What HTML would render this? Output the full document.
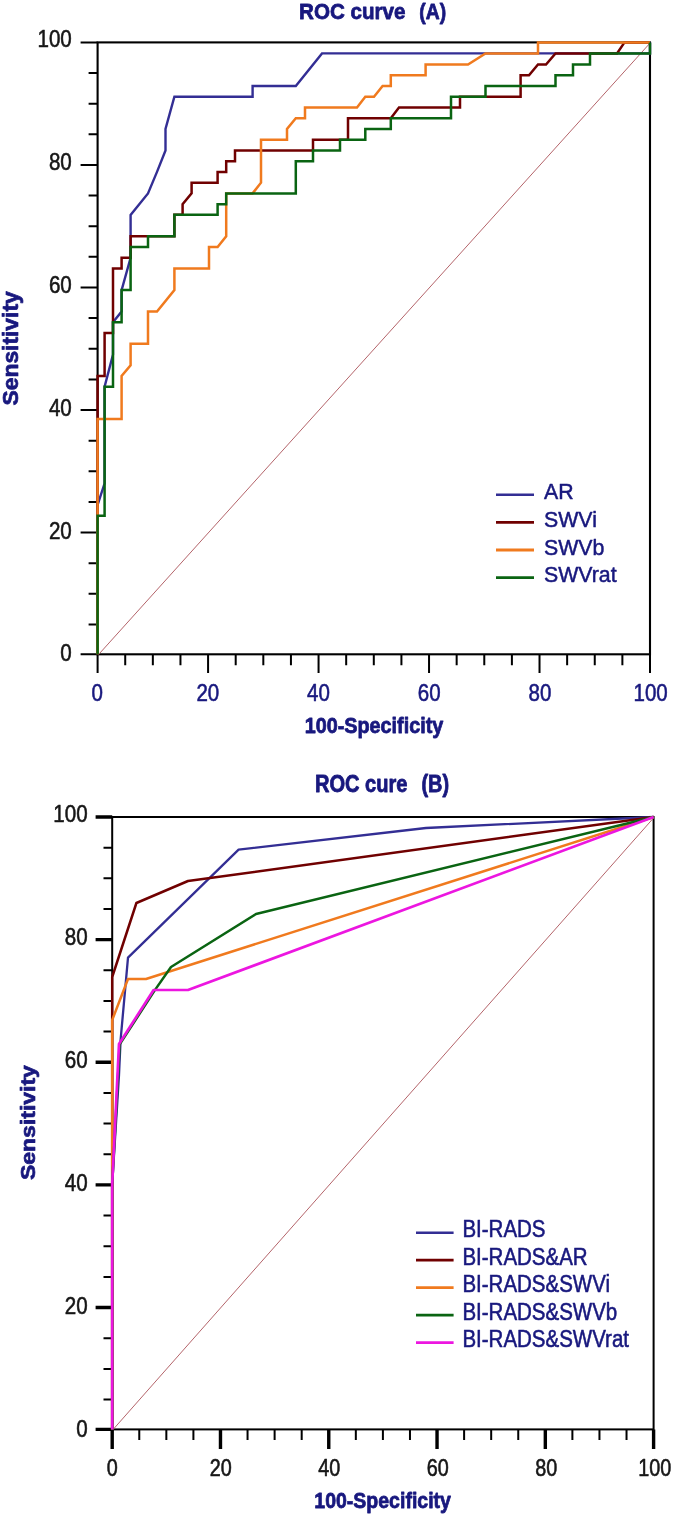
<!DOCTYPE html>
<html><head><meta charset="utf-8"><title>ROC curves</title>
<style>html,body{margin:0;padding:0;background:#fff}svg{display:block;will-change:transform}text{font-family:"Liberation Sans",sans-serif}</style></head><body>
<svg width="675" height="1518" viewBox="0 0 675 1518">
<rect width="675" height="1518" fill="#fff"/>
<g id="chartA">
<rect x="97.6" y="42.4" width="552.4" height="611.9" fill="none" stroke="#000" stroke-width="2.1"/>
<path d="M80.6,654.30H97.6M97.60,654.3V673M88.6,624.46H97.6M125.22,654.3V665.2M88.6,593.83H97.6M152.84,654.3V665.2M88.6,563.19H97.6M180.46,654.3V665.2M80.6,532.56H97.6M208.08,654.3V673M88.6,501.92H97.6M235.70,654.3V665.2M88.6,471.29H97.6M263.32,654.3V665.2M88.6,440.65H97.6M290.94,654.3V665.2M80.6,410.02H97.6M318.56,654.3V673M88.6,379.38H97.6M346.18,654.3V665.2M88.6,348.75H97.6M373.80,654.3V665.2M88.6,318.11H97.6M401.42,654.3V665.2M80.6,287.48H97.6M429.04,654.3V673M88.6,256.84H97.6M456.66,654.3V665.2M88.6,226.21H97.6M484.28,654.3V665.2M88.6,195.57H97.6M511.90,654.3V665.2M80.6,164.94H97.6M539.52,654.3V673M88.6,134.30H97.6M567.14,654.3V665.2M88.6,103.67H97.6M594.76,654.3V665.2M88.6,73.04H97.6M622.38,654.3V665.2M80.6,42.40H97.6M650.00,654.3V673" stroke="#000" stroke-width="2" fill="none"/>
<line x1="98.6" y1="654.5" x2="650.0" y2="43.1" stroke="#b4646a" stroke-width="1"/>
<path d="M97.6,654.3 L97.6,504.91 L104.6,483.42 L104.6,386.74 L113,354.52 L113,322.29 L121.6,311.55 L121.6,290.07 L130.6,257.84 L130.6,214.87 L148,193.39 L157,171.9 L165.5,150.42 L165.5,128.94 L174.4,96.71 L252.6,96.71 L252.6,85.97 L295.8,85.97 L322,53.4 L650,53.4 L650,42.4" fill="none" stroke="#332e94" stroke-width="2.4" stroke-linejoin="miter"/>
<path d="M97.6,654.3 L97.6,376.0 L104.6,376.0 L104.6,333.03 L113,333.03 L113,268.58 L121.6,268.58 L121.6,257.84 L130.6,257.84 L130.6,236.36 L174.4,236.36 L174.4,214.87 L182.6,214.87 L182.6,204.13 L191.6,193.39 L191.6,182.65 L217.6,182.65 L217.6,171.9 L226.2,171.9 L226.2,161.16 L235,161.16 L235,150.42 L313,150.42 L313,139.68 L348,139.68 L348,118.19 L390.8,118.19 L399,107.45 L460,107.45 L460,96.71 L520.6,96.71 L520.6,75.23 L529,75.23 L538,64.48 L546,64.48 L555.5,53.4 L617,53.4 L624.5,42.4 L650,42.4" fill="none" stroke="#700000" stroke-width="2.5" stroke-linejoin="miter"/>
<path d="M97.6,654.3 L97.6,418.97 L121.6,418.97 L121.6,376.0 L130.6,365.26 L130.6,343.78 L148,343.78 L148,311.55 L157,311.55 L174.4,290.07 L174.4,268.58 L209,268.58 L209,247.1 L217.6,247.1 L226.2,236.36 L226.2,193.39 L252.6,193.39 L261,182.65 L261,139.68 L287,139.68 L287,128.94 L295.8,118.19 L305,118.19 L305,107.45 L357,107.45 L365.3,96.71 L374,96.71 L382.6,85.97 L390.8,85.97 L390.8,75.23 L425.6,75.23 L425.6,64.48 L468,64.48 L485.5,53.4 L538,53.4 L538,42.4 L650,42.4" fill="none" stroke="#f07a1e" stroke-width="2.5" stroke-linejoin="miter"/>
<path d="M97.6,654.3 L97.6,515.65 L104.6,515.65 L104.6,386.74 L113,386.74 L113,322.29 L121.6,322.29 L121.6,290.07 L130.6,290.07 L130.6,247.1 L148,247.1 L148,236.36 L174.4,236.36 L174.4,214.87 L217.6,214.87 L217.6,204.13 L226.2,204.13 L226.2,193.39 L295.8,193.39 L295.8,161.16 L313,161.16 L313,150.42 L340,150.42 L340,139.68 L365.3,139.68 L365.3,128.94 L390.8,128.94 L390.8,118.19 L451,118.19 L451,96.71 L485.5,96.71 L485.5,85.97 L555.5,85.97 L555.5,75.23 L573,75.23 L573,64.48 L590,64.48 L590,53.4 L650,53.4 L650,42.4" fill="none" stroke="#0a6412" stroke-width="2.5" stroke-linejoin="miter"/>
<text transform="translate(71.8,661.4) scale(1,1.17)" font-size="20.6" text-anchor="end" fill="#161616" stroke="#161616" stroke-width="0.5" stroke-linejoin="round">0</text>
<text transform="translate(71.8,538.5) scale(1,1.17)" font-size="20.6" text-anchor="end" fill="#161616" stroke="#161616" stroke-width="0.5" stroke-linejoin="round">20</text>
<text transform="translate(71.8,415.7) scale(1,1.17)" font-size="20.6" text-anchor="end" fill="#161616" stroke="#161616" stroke-width="0.5" stroke-linejoin="round">40</text>
<text transform="translate(71.8,292.8) scale(1,1.17)" font-size="20.6" text-anchor="end" fill="#161616" stroke="#161616" stroke-width="0.5" stroke-linejoin="round">60</text>
<text transform="translate(71.8,170.0) scale(1,1.17)" font-size="20.6" text-anchor="end" fill="#161616" stroke="#161616" stroke-width="0.5" stroke-linejoin="round">80</text>
<text transform="translate(71.8,47.1) scale(1,1.17)" font-size="20.6" text-anchor="end" fill="#161616" stroke="#161616" stroke-width="0.5" stroke-linejoin="round">100</text>
<text transform="translate(97.1,700.7) scale(1,1.17)" font-size="20.5" text-anchor="middle" fill="#18187e" stroke="#18187e" stroke-width="0.5" stroke-linejoin="round">0</text>
<text transform="translate(207.8,700.7) scale(1,1.17)" font-size="20.5" text-anchor="middle" fill="#18187e" stroke="#18187e" stroke-width="0.5" stroke-linejoin="round">20</text>
<text transform="translate(318.5,700.7) scale(1,1.17)" font-size="20.5" text-anchor="middle" fill="#18187e" stroke="#18187e" stroke-width="0.5" stroke-linejoin="round">40</text>
<text transform="translate(429.2,700.7) scale(1,1.17)" font-size="20.5" text-anchor="middle" fill="#18187e" stroke="#18187e" stroke-width="0.5" stroke-linejoin="round">60</text>
<text transform="translate(539.9,700.7) scale(1,1.17)" font-size="20.5" text-anchor="middle" fill="#18187e" stroke="#18187e" stroke-width="0.5" stroke-linejoin="round">80</text>
<text transform="translate(650.6,700.7) scale(1,1.17)" font-size="20.5" text-anchor="middle" fill="#18187e" stroke="#18187e" stroke-width="0.5" stroke-linejoin="round">100</text>
<text transform="translate(299.0,19.1) scale(1,1.12)" font-size="20" font-weight="bold" textLength="106.5" lengthAdjust="spacingAndGlyphs" fill="#18187e" stroke="#18187e" stroke-width="0.7" stroke-linejoin="round">ROC curve</text>
<text transform="translate(419.3,19.1) scale(1,1.12)" font-size="20" font-weight="bold" textLength="26.8" lengthAdjust="spacingAndGlyphs" fill="#18187e" stroke="#18187e" stroke-width="0.7" stroke-linejoin="round">(A)</text>
<text transform="translate(374,733.0) scale(1,1.11)" font-size="20" text-anchor="middle" font-weight="bold" textLength="138.6" lengthAdjust="spacingAndGlyphs" fill="#18187e" stroke="#18187e" stroke-width="0.7" stroke-linejoin="round">100-Specificity</text>
<text transform="translate(18.1,348.4) rotate(-90) scale(1,1)" font-size="21.4" text-anchor="middle" font-weight="bold" textLength="114.2" lengthAdjust="spacingAndGlyphs" fill="#18187e" stroke="#18187e" stroke-width="0.7" stroke-linejoin="round">Sensitivity</text>
<line x1="496" y1="494.7" x2="534" y2="494.7" stroke="#332e94" stroke-width="2.5"/>
<text transform="translate(544,499.4) scale(1,1.065)" font-size="21.3" fill="#18187e" stroke="#18187e" stroke-width="0.5" stroke-linejoin="round">AR</text>
<line x1="496" y1="522.4" x2="534" y2="522.4" stroke="#700000" stroke-width="2.8"/>
<text transform="translate(544,527.1) scale(1,1.065)" font-size="21.3" fill="#18187e" stroke="#18187e" stroke-width="0.5" stroke-linejoin="round">SWVi</text>
<line x1="496" y1="550.0" x2="534" y2="550.0" stroke="#f07a1e" stroke-width="2.8"/>
<text transform="translate(544,554.7) scale(1,1.065)" font-size="21.3" fill="#18187e" stroke="#18187e" stroke-width="0.5" stroke-linejoin="round">SWVb</text>
<line x1="496" y1="577.6" x2="534" y2="577.6" stroke="#0a6412" stroke-width="2.8"/>
<text transform="translate(544,582.4) scale(1,1.065)" font-size="21.3" fill="#18187e" stroke="#18187e" stroke-width="0.5" stroke-linejoin="round">SWVrat</text>
</g>
<g id="chartB">
<rect x="112.2" y="817.0" width="541.4" height="612.4" fill="none" stroke="#000" stroke-width="2"/>
<path d="M95.6,1429.40H112.2M112.20,1429.4V1449M95.6,1307.56H112.2M220.48,1429.4V1449M95.6,1184.92H112.2M328.76,1429.4V1449M95.6,1062.28H112.2M437.04,1429.4V1449M95.6,939.64H112.2M545.32,1429.4V1449M95.6,817.00H112.2M653.60,1429.4V1449" stroke="#000" stroke-width="3.4" fill="none"/>
<path d="M103.5,1399.54H112.2M139.27,1429.4V1440M103.5,1368.88H112.2M166.34,1429.4V1440M103.5,1338.22H112.2M193.41,1429.4V1440M103.5,1276.90H112.2M247.55,1429.4V1440M103.5,1246.24H112.2M274.62,1429.4V1440M103.5,1215.58H112.2M301.69,1429.4V1440M103.5,1154.26H112.2M355.83,1429.4V1440M103.5,1123.60H112.2M382.90,1429.4V1440M103.5,1092.94H112.2M409.97,1429.4V1440M103.5,1031.62H112.2M464.11,1429.4V1440M103.5,1000.96H112.2M491.18,1429.4V1440M103.5,970.30H112.2M518.25,1429.4V1440M103.5,908.98H112.2M572.39,1429.4V1440M103.5,878.32H112.2M599.46,1429.4V1440M103.5,847.66H112.2M626.53,1429.4V1440" stroke="#000" stroke-width="2" fill="none"/>
<line x1="113.2" y1="1429.4" x2="653.6" y2="817.9" stroke="#b4646a" stroke-width="1"/>
<path d="M112.2,1429.4 L112.2,1184 L119,1075 L120.6,1040 L128,957.6 L238.6,849.6 L426,828 L653.6,817.0" fill="none" stroke="#332e94" stroke-width="2.3" stroke-linejoin="round"/>
<path d="M112.2,1429.4 L112.2,977 L136.4,903 L188,881 L653.6,817.0" fill="none" stroke="#700000" stroke-width="2.5" stroke-linejoin="round"/>
<path d="M112.2,1429.4 L112.2,1020 L128,979 L146,979 L653.6,817.0" fill="none" stroke="#f07a1e" stroke-width="2.5" stroke-linejoin="round"/>
<path d="M112.2,1429.4 L112.2,1184 L119.7,1044.4 L154.7,990.4 L171,967 L256,914 L653.6,817.0" fill="none" stroke="#0a6412" stroke-width="2.5" stroke-linejoin="round"/>
<path d="M112.2,1429.4 L112.2,1184 L119,1044 L153.6,990 L188,990 L653.6,817.0" fill="none" stroke="#ec16e0" stroke-width="2.7" stroke-linejoin="round"/>
<text transform="translate(87.6,1436.5) scale(1,1.17)" font-size="20.6" text-anchor="end" fill="#161616" stroke="#161616" stroke-width="0.5" stroke-linejoin="round">0</text>
<text transform="translate(87.6,1313.6) scale(1,1.17)" font-size="20.6" text-anchor="end" fill="#161616" stroke="#161616" stroke-width="0.5" stroke-linejoin="round">20</text>
<text transform="translate(87.6,1190.6) scale(1,1.17)" font-size="20.6" text-anchor="end" fill="#161616" stroke="#161616" stroke-width="0.5" stroke-linejoin="round">40</text>
<text transform="translate(87.6,1067.7) scale(1,1.17)" font-size="20.6" text-anchor="end" fill="#161616" stroke="#161616" stroke-width="0.5" stroke-linejoin="round">60</text>
<text transform="translate(87.6,944.7) scale(1,1.17)" font-size="20.6" text-anchor="end" fill="#161616" stroke="#161616" stroke-width="0.5" stroke-linejoin="round">80</text>
<text transform="translate(87.6,821.8) scale(1,1.17)" font-size="20.6" text-anchor="end" fill="#161616" stroke="#161616" stroke-width="0.5" stroke-linejoin="round">100</text>
<text transform="translate(112.2,1475.9) scale(1,1.21)" font-size="19.8" text-anchor="middle" fill="#161616" stroke="#161616" stroke-width="0.5" stroke-linejoin="round">0</text>
<text transform="translate(220.7,1475.9) scale(1,1.21)" font-size="19.8" text-anchor="middle" fill="#161616" stroke="#161616" stroke-width="0.5" stroke-linejoin="round">20</text>
<text transform="translate(329.2,1475.9) scale(1,1.21)" font-size="19.8" text-anchor="middle" fill="#161616" stroke="#161616" stroke-width="0.5" stroke-linejoin="round">40</text>
<text transform="translate(437.7,1475.9) scale(1,1.21)" font-size="19.8" text-anchor="middle" fill="#161616" stroke="#161616" stroke-width="0.5" stroke-linejoin="round">60</text>
<text transform="translate(546.2,1475.9) scale(1,1.21)" font-size="19.8" text-anchor="middle" fill="#161616" stroke="#161616" stroke-width="0.5" stroke-linejoin="round">80</text>
<text transform="translate(654.7,1475.9) scale(1,1.21)" font-size="19.8" text-anchor="middle" fill="#161616" stroke="#161616" stroke-width="0.5" stroke-linejoin="round">100</text>
<text transform="translate(314.9,791.8) scale(1,1.16)" font-size="20" font-weight="bold" textLength="92.5" lengthAdjust="spacingAndGlyphs" fill="#18187e" stroke="#18187e" stroke-width="0.7" stroke-linejoin="round">ROC cure</text>
<text transform="translate(421.4,791.8) scale(1,1.16)" font-size="20" font-weight="bold" textLength="27.6" lengthAdjust="spacingAndGlyphs" fill="#18187e" stroke="#18187e" stroke-width="0.7" stroke-linejoin="round">(B)</text>
<text transform="translate(382.6,1508.2) scale(1,1.11)" font-size="20" text-anchor="middle" font-weight="bold" textLength="136.6" lengthAdjust="spacingAndGlyphs" fill="#18187e" stroke="#18187e" stroke-width="0.7" stroke-linejoin="round">100-Specificity</text>
<text transform="translate(34.5,1122.6) rotate(-90) scale(1,1)" font-size="20.4" text-anchor="middle" font-weight="bold" textLength="115" lengthAdjust="spacingAndGlyphs" fill="#18187e" stroke="#18187e" stroke-width="0.7" stroke-linejoin="round">Sensitivity</text>
<line x1="416" y1="1232.8" x2="453.6" y2="1232.8" stroke="#332e94" stroke-width="2.5"/>
<text transform="translate(462.4,1237.3) scale(1,1.15)" font-size="20.5" fill="#18187e" stroke="#18187e" stroke-width="0.5" stroke-linejoin="round">BI-RADS</text>
<line x1="416" y1="1260.2" x2="453.6" y2="1260.2" stroke="#700000" stroke-width="2.8"/>
<text transform="translate(462.4,1264.8) scale(1,1.15)" font-size="20.5" fill="#18187e" stroke="#18187e" stroke-width="0.5" stroke-linejoin="round">BI-RADS&amp;AR</text>
<line x1="416" y1="1287.7" x2="453.6" y2="1287.7" stroke="#f07a1e" stroke-width="2.8"/>
<text transform="translate(462.4,1292.2) scale(1,1.15)" font-size="20.5" fill="#18187e" stroke="#18187e" stroke-width="0.5" stroke-linejoin="round">BI-RADS&amp;SWVi</text>
<line x1="416" y1="1315.1" x2="453.6" y2="1315.1" stroke="#0a6412" stroke-width="2.8"/>
<text transform="translate(462.4,1319.6) scale(1,1.15)" font-size="20.5" fill="#18187e" stroke="#18187e" stroke-width="0.5" stroke-linejoin="round">BI-RADS&amp;SWVb</text>
<line x1="416" y1="1342.6" x2="453.6" y2="1342.6" stroke="#ec16e0" stroke-width="2.8"/>
<text transform="translate(462.4,1347.1) scale(1,1.15)" font-size="20.5" fill="#18187e" stroke="#18187e" stroke-width="0.5" stroke-linejoin="round">BI-RADS&amp;SWVrat</text>
</g>
</svg></body></html>
